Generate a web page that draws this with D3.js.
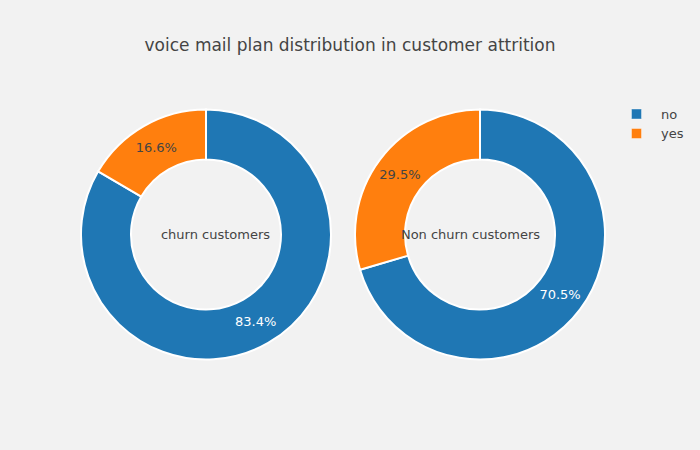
<!DOCTYPE html>
<html>
<head>
<meta charset="utf-8">
<script src="https://cdn.jsdelivr.net/npm/d3@7"></script>
<style>
html,body{margin:0;padding:0;background:#f2f2f2;}
text{font-family:"DejaVu Sans",Verdana,sans-serif;}
</style>
</head>
<body>
<svg id="chart" width="700" height="450"></svg>
<script>
const categories = ["no", "yes"];
const churnValues = [403, 80];
const nonChurnValues = [2008, 842];
const panelTitles = ["churn customers", "Non churn customers"];
const chartTitle = "voice mail plan distribution in customer attrition";
const colors = ["#1f77b4", "#ff7f0e"];

const svg = d3.select("#chart");
svg.append("rect").attr("width", 700).attr("height", 450).attr("fill", "#f2f2f2");

svg.append("text").attr("x", 350).attr("y", 51).attr("text-anchor", "middle")
  .attr("font-size", 17).attr("fill", "#444").text(chartTitle);

const color = d3.scaleOrdinal().domain(categories).range(colors);
const outerR = 125, innerR = 75;
const pie = d3.pie().sort(null).value(d => d.v);
const arc = d3.arc().innerRadius(innerR).outerRadius(outerR);
const labelArc = d3.arc().innerRadius((innerR + outerR) / 2).outerRadius((innerR + outerR) / 2);

const panels = [
  {vals: churnValues, cx: 206, cy: 234.5, title: panelTitles[0], tx: 215.5},
  {vals: nonChurnValues, cx: 480, cy: 234.5, title: panelTitles[1], tx: 470.5}
];

panels.forEach(p => {
  const data = categories.map((c, i) => ({c, v: p.vals[i]}));
  const total = d3.sum(data, d => d.v);
  const g = svg.append("g").attr("transform", `translate(${p.cx},${p.cy})`);
  const arcs = pie(data);
  g.selectAll("path").data(arcs).join("path")
    .attr("d", arc).attr("fill", d => color(d.data.c))
    .attr("stroke", "#ffffff").attr("stroke-width", 2);
  g.selectAll("text.pct").data(arcs).join("text").attr("class", "pct")
    .attr("transform", d => `translate(${labelArc.centroid(d)})`)
    .attr("text-anchor", "middle").attr("dy", "0.35em")
    .attr("font-size", 13)
    .attr("fill", d => d.data.c === "no" ? "#ffffff" : "#444")
    .text(d => (d.data.v / total * 100).toFixed(1) + "%");
  svg.append("text").attr("x", p.tx).attr("y", p.cy).attr("dy", "0.35em")
    .attr("text-anchor", "middle").attr("font-size", 13).attr("fill", "#444")
    .text(p.title);
});

const legend = svg.append("g");
categories.forEach((c, i) => {
  const y = 114 + i * 19.5;
  legend.append("rect").attr("x", 631.5).attr("y", y - 5).attr("width", 10).attr("height", 10)
    .attr("fill", color(c)).attr("stroke", "#ffffff").attr("stroke-opacity", 0.4).attr("stroke-width", 1);
  legend.append("text").attr("x", 661).attr("y", y).attr("dy", "0.35em")
    .attr("font-size", 13).attr("fill", "#444").text(c);
});
</script>
</body>
</html>
